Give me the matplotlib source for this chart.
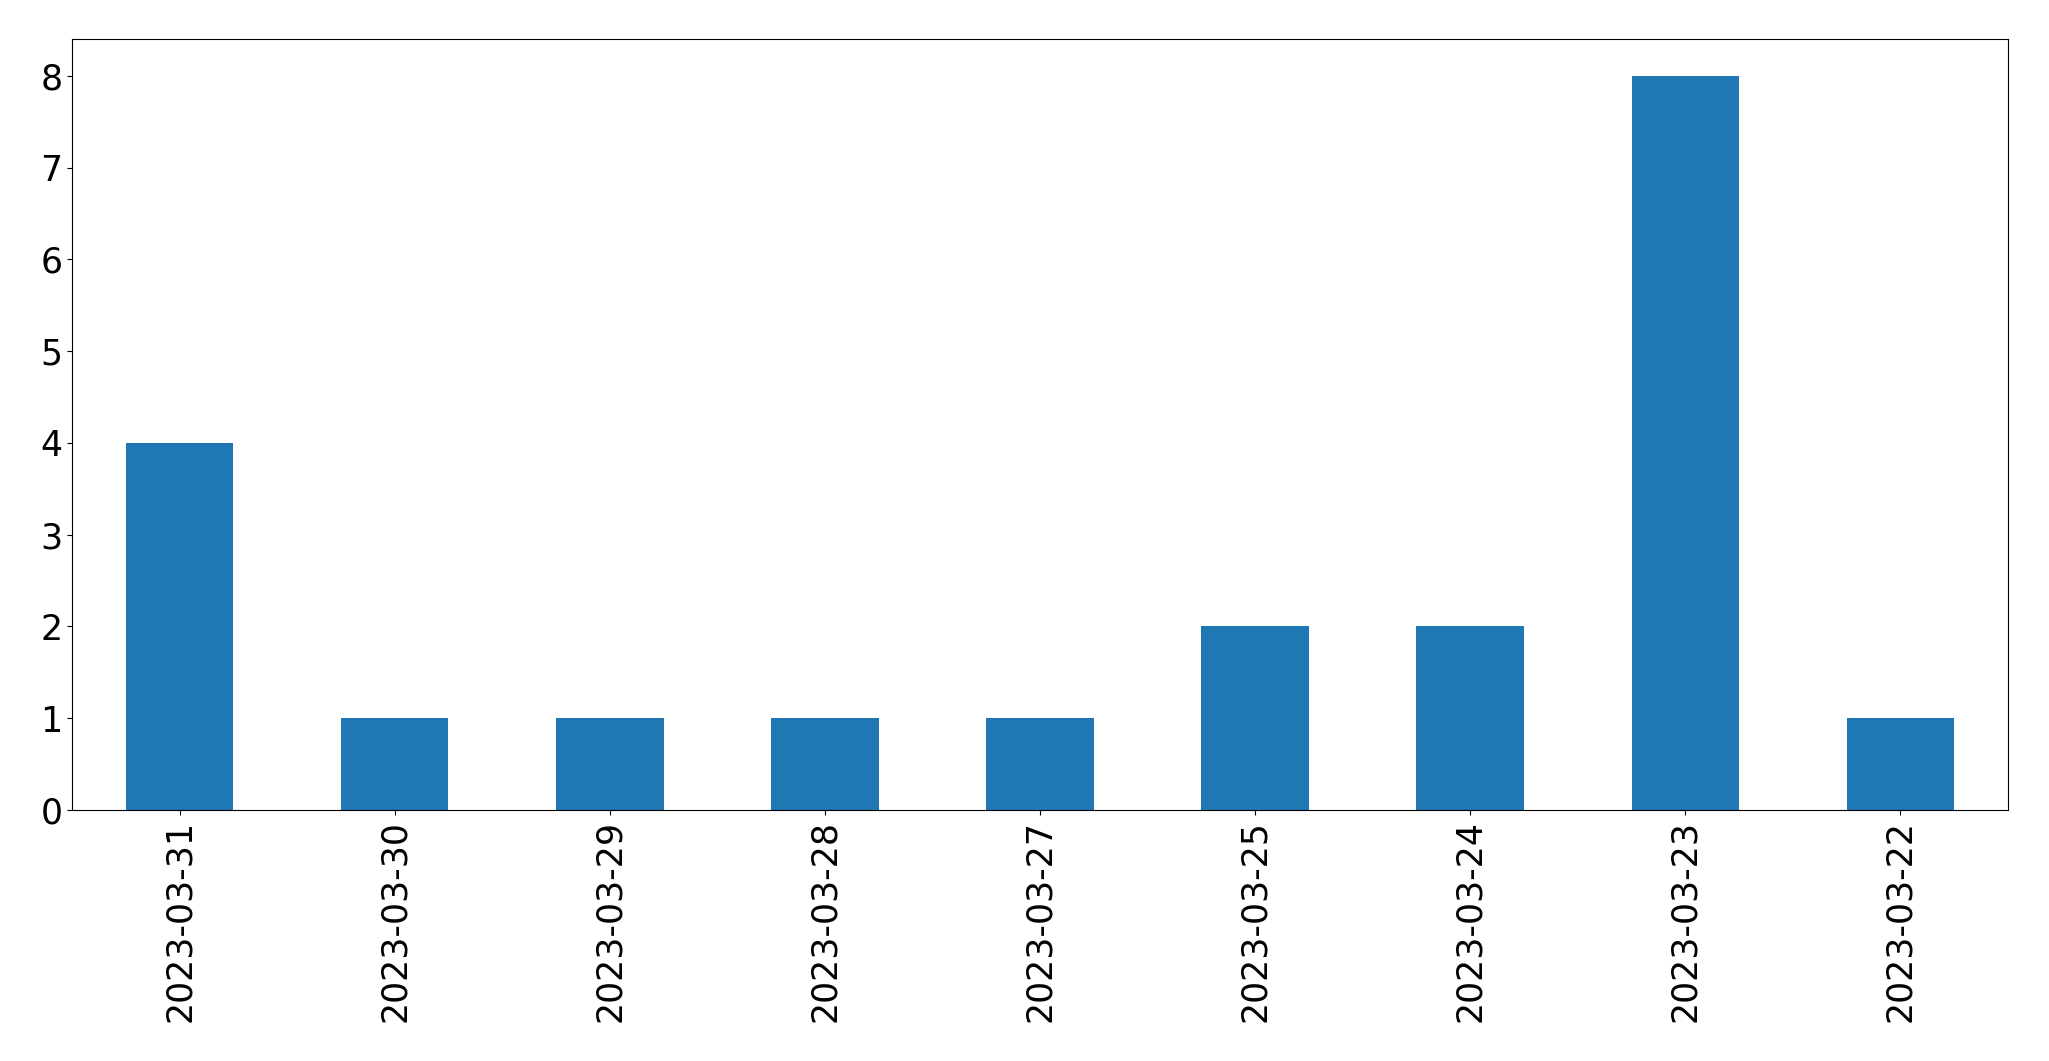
import matplotlib
matplotlib.use('Agg')
import matplotlib.pyplot as plt
import numpy as np

dates = ['2023-03-31', '2023-03-30', '2023-03-29', '2023-03-28', '2023-03-27',
         '2023-03-25', '2023-03-24', '2023-03-23', '2023-03-22']
counts = [4, 1, 1, 1, 1, 2, 2, 8, 1]

fig = plt.figure(figsize=(20.49, 10.61), dpi=100)
ax = fig.add_axes([72/2049, 1 - 810/1061, (2008-72)/2049, (810-39)/1061])

x = np.arange(len(dates))
ax.bar(x, counts, width=0.5, color='#1f77b4')
ax.set_xlim(-0.5, len(dates) - 0.5)
ax.set_ylim(0, 8.4)
ax.set_xticks(x)
ax.set_xticklabels(dates, rotation=90)
ax.tick_params(labelsize=25)

fig.savefig('out.png', dpi=100)
